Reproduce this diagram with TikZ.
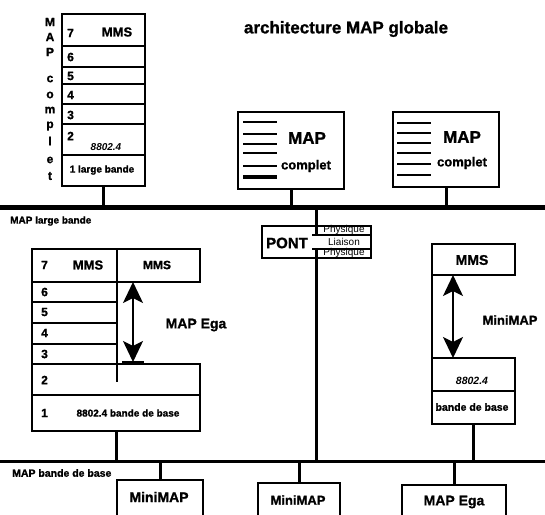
\documentclass[tikz,border=0pt]{standalone}
\usepackage{fontspec}
\setmainfont{Liberation Sans}[BoldFeatures={FakeBold=1.2}]
\usetikzlibrary{arrows.meta}
\newcommand\fsb[1]{\fontsize{#1}{#1}\selectfont\bfseries}
\newcommand\fsr[1]{\fontsize{#1}{#1}\selectfont}
\begin{document}
\begin{tikzpicture}[x=1pt,y=-1pt,
  box/.style={draw,line width=1.6pt,anchor=north west,inner sep=0pt,outer sep=0pt},
  txt/.style={inner sep=0pt,font=\fsb{12}},
  conn/.style={line width=3pt},
  bus/.style={line width=#1},
  dblarrow/.style={line width=1.6pt,{Stealth[length=21pt,width=20pt,inset=5pt]}-{Stealth[length=21pt,width=20pt,inset=5pt]}}
]
\clip (0,0) rectangle (545,514);
\fill[white] (0,0) rectangle (545,514);

% title
\node[txt,font=\fsb{17}] (title) at (346,29) {architecture MAP globale};

% ---------- top-left stack
\node[box,minimum width=83pt,minimum height=32pt] (r7) at (62,14) {};
\node[box,minimum width=83pt,minimum height=21pt] (r6) at (62,46) {};
\node[box,minimum width=83pt,minimum height=17pt] (r5) at (62,67) {};
\node[box,minimum width=83pt,minimum height=20pt] (r4) at (62,84) {};
\node[box,minimum width=83pt,minimum height=20pt] (r3) at (62,104) {};
\node[box,minimum width=83pt,minimum height=31pt] (r2) at (62,124) {};
\node[box,minimum width=83pt,minimum height=31pt] (r1) at (62,155) {};
\node[txt,anchor=west] (n7) at (67,33) {7};
\node[txt,font=\fsb{13}] (mms1) at (117,32) {MMS};
\node[txt,anchor=west] (n6) at (67,57) {6};
\node[txt,anchor=west] (n5) at (67,76) {5};
\node[txt,anchor=west] (n4) at (67,95) {4};
\node[txt,anchor=west] (n3) at (67,115) {3};
\node[txt,anchor=west] (n2) at (67,136) {2};
\node[txt,font=\fsb{10}\itshape] (e1) at (106,147) {8802.4};
\node[txt,font=\fsb{10}] (lb1) at (102,170) {1 large bande};
% vertical letters
\foreach \l/\yy [count=\i] in {M/22,A/37,P/52,c/79,o/95,m/110,p/126,l/141,e/160,t/176}
  \node[txt,font=\fsb{12}] (v\i) at (50,\yy) {\l};

% ---------- top bus
\coordinate (tbL) at (0,207);
\coordinate (tbR) at (545,207);
\draw[bus=5pt] (tbL) -- (tbR);
\node[txt,font=\fsb{10},anchor=west] (tblabel) at (10,221) {MAP large bande};
\draw[conn] (r1.south) -- (r1.south |- tbL);

% ---------- MAP complet boxes
\node[box,minimum width=106pt,minimum height=77pt] (c1) at (238,112) {};
\foreach \yy in {122,134,144,153,166} \draw[line width=2.6pt] (243,\yy) -- (277,\yy);
\draw[line width=3.6pt] (243,177) -- (277,177);
\node[txt,font=\fsb{17}] (c1a) at (307,138) {MAP};
\node[txt,font=\fsb{13}] (c1b) at (306,166) {complet};
\draw[conn] (c1.south) -- (c1.south |- tbL);

\node[box,minimum width=106pt,minimum height=75pt] (c2) at (393,112) {};
\foreach \yy in {123,133,143,153,164,175} \draw[line width=1.2pt] (397,\yy) -- (431,\yy);
\node[txt,font=\fsb{17}] (c2a) at (462,137) {MAP};
\node[txt,font=\fsb{13}] (c2b) at (462,163) {complet};
\draw[conn] (c2.south) -- (c2.south |- tbL);

% ---------- PONT
\node[box,line width=1.4pt,minimum width=109pt,minimum height=32pt] (pont) at (262,226) {};
\node[txt,font=\fsb{15}] (pontt) at (287,243) {PONT};
\coordinate (p1) at (316.5,235);
\coordinate (p2) at (316.5,249);
\draw[line width=2.6pt] (pont.north |- tbL) -- (p1);
\draw[line width=1.2pt] (312,235) -- (371,235);
\draw[line width=1.2pt] (312,249) -- (371,249);
\node[txt,font=\fsr{10}] (ph1) at (344,230) {Physique};
\node[txt,font=\fsr{10}] (lia) at (344,242) {Liaison};
\node[txt,font=\fsr{10}] (ph2) at (344,253) {Physique};

% ---------- bottom bus
\coordinate (bbL) at (0,461);
\coordinate (bbR) at (545,461);
\draw[bus=3pt] (bbL) -- (bbR);
\node[txt,font=\fsb{10.5},anchor=west] (bblabel) at (12,473) {MAP bande de base};
\draw[line width=2.6pt] (p2) -- (p2 |- bbL);

% ---------- lower-left stack
\node[box,minimum width=168pt,minimum height=33pt] (L7) at (32,249) {};
\node[box,minimum width=85pt,minimum height=20pt] (L6) at (32,282) {};
\node[box,minimum width=85pt,minimum height=21pt] (L5) at (32,302) {};
\node[box,minimum width=85pt,minimum height=21pt] (L4) at (32,323) {};
\node[box,minimum width=85pt,minimum height=20pt] (L3) at (32,344) {};
\node[box,minimum width=168pt,minimum height=31pt] (L2) at (32,364) {};
\node[box,minimum width=168pt,minimum height=36pt] (L1) at (32,395) {};
\coordinate (dvT) at (117,249);
\coordinate (dvB) at (117,382);
\draw[line width=1.6pt] (dvT) -- (dvB);
\node[txt,anchor=west] (m7) at (41,265) {7};
\node[txt,font=\fsb{13}] (mmsL) at (88,265) {MMS};
\node[txt,font=\fsb{12}] (mmsR) at (157,265) {MMS};
\node[txt,anchor=west] (m6) at (41,292) {6};
\node[txt,anchor=west] (m5) at (41,312) {5};
\node[txt,anchor=west] (m4) at (41,333) {4};
\node[txt,anchor=west] (m3) at (41,354) {3};
\node[txt,anchor=west] (m2) at (41,380) {2};
\node[txt,anchor=west] (m1) at (41,413) {1};
\node[txt,font=\fsb{10}] (bb1) at (128,413) {8802.4 bande de base};
\coordinate (arT) at (133,282);
\coordinate (arB) at (133,362);
\draw[dblarrow] (arT) -- (arB);
\draw[line width=1.4pt] (122,362) -- (144,362);
\node[txt,font=\fsb{14}] (ega1) at (196,325) {MAP Ega};
\draw[conn] (L1.south) -- (L1.south |- bbL);

% ---------- right stack
\node[box,minimum width=83pt,minimum height=31pt] (R7) at (432,244) {};
\node[txt,font=\fsb{14}] (mmsr) at (472,260) {MMS};
\node[box,minimum width=83pt,minimum height=33pt] (R2) at (432,358) {};
\node[box,minimum width=83pt,minimum height=33pt] (R1) at (432,391) {};
\draw[line width=1.6pt] (R7.south west) -- (R2.north west);
\coordinate (raT) at (453,275);
\coordinate (raB) at (453,358);
\draw[dblarrow] (raT) -- (raB);
\node[txt,font=\fsb{13}] (mini1) at (510,320) {MiniMAP};
\node[txt,font=\fsb{10.5}\itshape] (e2) at (472,381) {8802.4};
\node[txt,font=\fsb{10.5}] (bb2) at (472,407) {bande de base};
\draw[conn] (R1.south) -- (R1.south |- bbL);

% ---------- bottom boxes
\node[box,minimum width=86pt,minimum height=60pt] (B1) at (117,480) {};
\node[txt,font=\fsb{14}] (B1t) at (159,497) {MiniMAP};
\draw[conn] (B1.north |- bbL) -- (B1.north);
\node[box,minimum width=82pt,minimum height=60pt] (B2) at (258,483) {};
\node[txt,font=\fsb{13}] (B2t) at (298,500) {MiniMAP};
\draw[conn] (B2.north |- bbL) -- (B2.north);
\node[box,minimum width=104pt,minimum height=60pt] (B3) at (402,485) {};
\node[txt,font=\fsb{14}] (B3t) at (454,502) {MAP Ega};
\draw[conn] (B3.north |- bbL) -- (B3.north);
\end{tikzpicture}
\end{document}
